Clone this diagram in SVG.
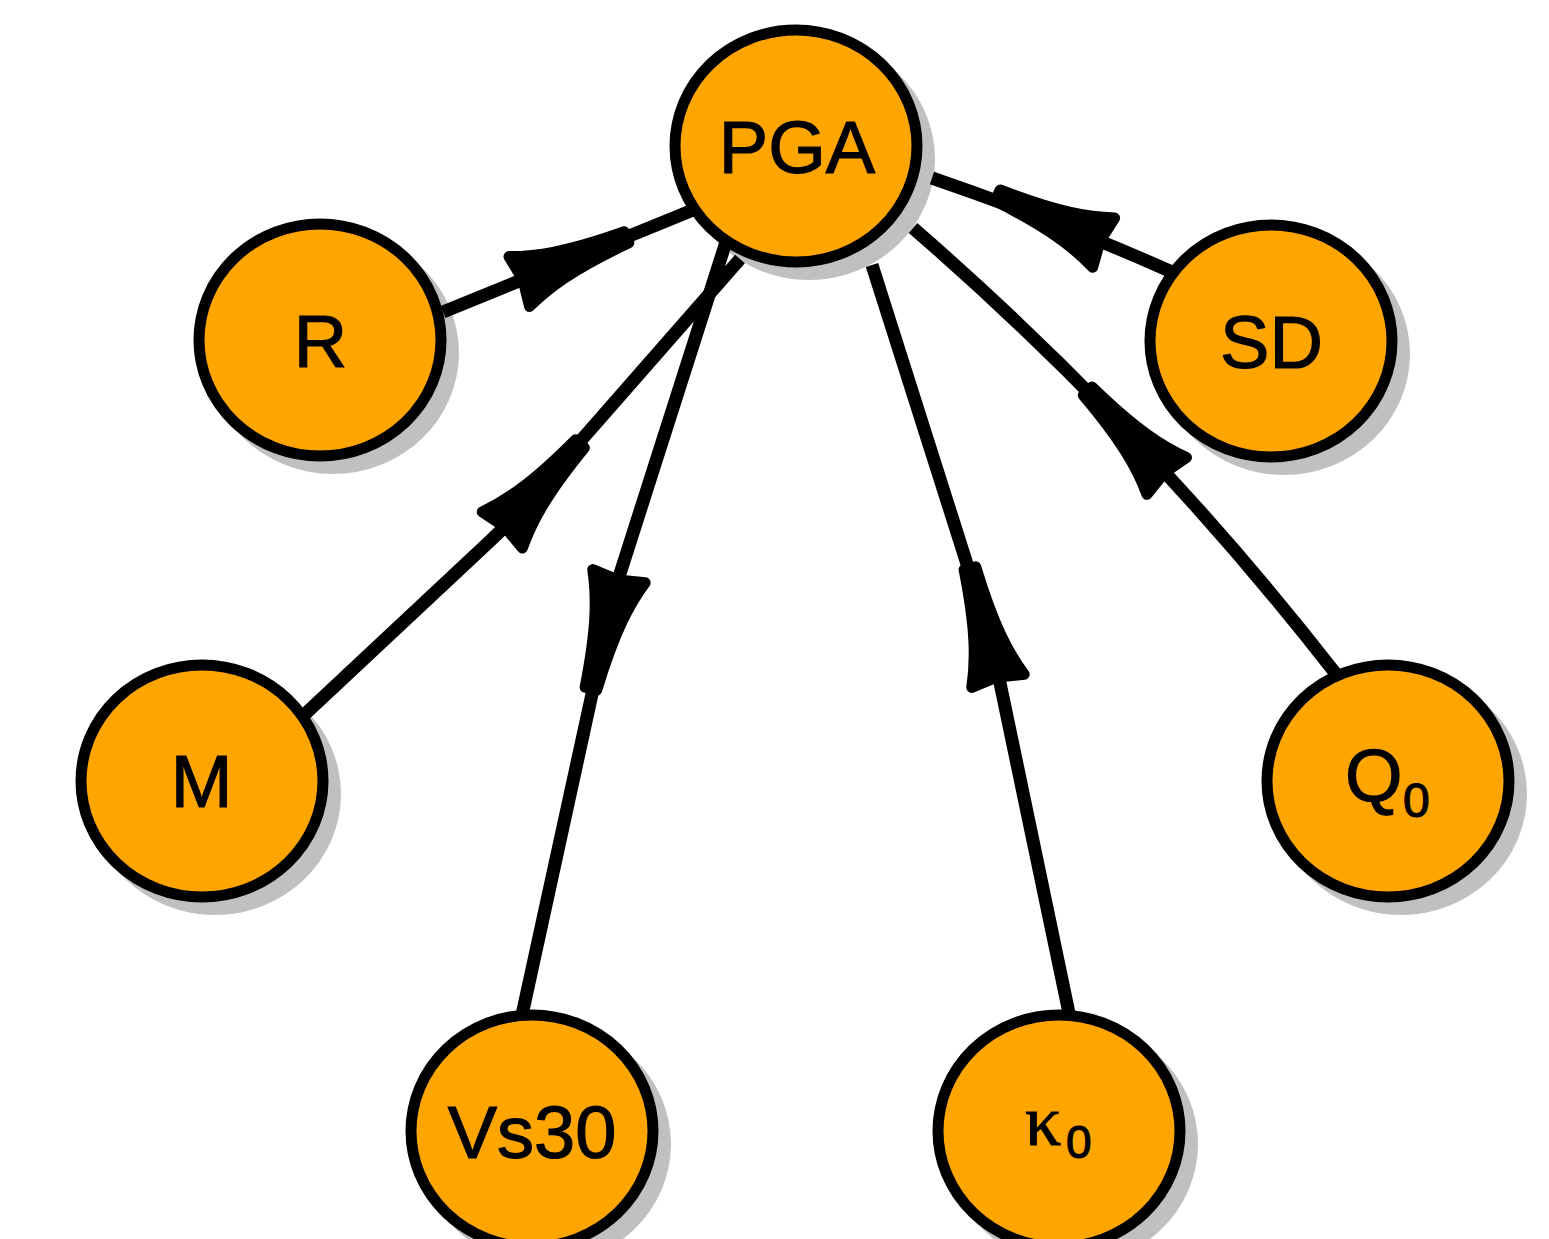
<svg xmlns="http://www.w3.org/2000/svg" xmlns:xlink="http://www.w3.org/1999/xlink" width="1549" height="1239" viewBox="0 0 1549 1239">
<style>
.shadow{fill:#c0c0c0;stroke:none}
.node{fill:#ffa500;stroke:#000;stroke-width:11}
.edge{fill:none;stroke:#000;stroke-width:13}
.lbl{font-family:"Liberation Sans",Arial,sans-serif;font-size:74px;fill:#000;stroke:#000;stroke-width:1.2;text-anchor:middle}
.sans{font-family:"Liberation Sans",Arial,sans-serif;fill:#000;stroke:#000;stroke-width:1.2}
.serif{font-family:"Liberation Serif","DejaVu Serif",serif;fill:#000;stroke:#000;stroke-width:1}
</style>
<defs>
<path id="ah" d="M0,0 L-4,-27 C20,-17 50,-9 112,-6 L112,6 C50,9 20,17 -4,27 Z" fill="#000" stroke="#000" stroke-width="11" stroke-linejoin="round"/>
</defs>
<rect width="1549" height="1239" fill="#fff"/>
<g id="shadows">
<ellipse class="shadow" cx="809" cy="159" rx="126" ry="121"/>
<ellipse class="shadow" cx="333" cy="353" rx="126" ry="121"/>
<ellipse class="shadow" cx="1284" cy="354" rx="126" ry="121"/>
<ellipse class="shadow" cx="215" cy="794" rx="126" ry="121"/>
<ellipse class="shadow" cx="1401" cy="794" rx="126" ry="121"/>
<ellipse class="shadow" cx="545" cy="1144" rx="126" ry="121"/>
<ellipse class="shadow" cx="1072" cy="1144" rx="126" ry="121"/>
</g>
<g id="edges">
<path class="edge" d="M443,312 L693,210"/>
<use xlink:href="#ah" href="#ah" transform="translate(523,280) rotate(-22.4)"/>
<path class="edge" d="M303,716 L490,541 Q505,527 520,510 L740,259"/>
<use xlink:href="#ah" href="#ah" transform="translate(505,527) rotate(-48)"/>
<path class="edge" d="M726,242 L618,580 Q607,620 599,662 Q560,840 522,1015"/>
<use xlink:href="#ah" href="#ah" transform="translate(618,580) rotate(104)"/>
<path class="edge" d="M1069,1013 Q1033,840 999,678 Q991,640 980,605 L872,265"/>
<use xlink:href="#ah" href="#ah" transform="translate(997,677) rotate(-104)"/>
<path class="edge" d="M1172,272 Q1060,222 932,178"/>
<use xlink:href="#ah" href="#ah" transform="translate(1100,241) rotate(-156)"/>
<path class="edge" d="M1336,674 Q1146,430 913,228"/>
<use xlink:href="#ah" href="#ah" transform="translate(1164,473) rotate(-133)"/>
</g>
<g id="node-PGA">
<ellipse class="node" cx="796" cy="146" rx="121" ry="116"/>
<text class="lbl" x="797" y="173">PGA</text>
</g>
<g id="node-R">
<ellipse class="node" cx="320" cy="340" rx="121" ry="116"/>
<text class="lbl" x="320.5" y="367">R</text>
</g>
<g id="node-SD">
<ellipse class="node" cx="1271" cy="341" rx="121" ry="116"/>
<text class="lbl" x="1271.5" y="368">SD</text>
</g>
<g id="node-M">
<ellipse class="node" cx="202" cy="781" rx="121" ry="116"/>
<text class="lbl" x="201.5" y="807">M</text>
</g>
<g id="node-Q0">
<ellipse class="node" cx="1388" cy="781" rx="121" ry="116"/>
<text class="sans" x="1345" y="801" font-size="74">Q<tspan x="1403" y="817" font-size="48">0</tspan></text>
</g>
<g id="node-Vs30">
<ellipse class="node" cx="532" cy="1131" rx="121" ry="116"/>
<text class="lbl" x="532" y="1158">Vs30</text>
</g>
<g id="node-kappa0">
<ellipse class="node" cx="1059" cy="1131" rx="121" ry="116"/>
<text class="serif" x="1025" y="1145" font-size="72">κ</text>
<text class="sans" x="1066" y="1158" font-size="46">0</text>
</g>
</svg>
